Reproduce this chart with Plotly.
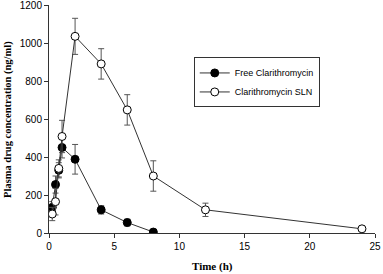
import plotly.graph_objects as go

time_free = [0.25, 0.5, 0.75, 1, 2, 4, 6, 8]
conc_free = [135, 255, 330, 450, 388, 122, 55, 5]
err_free = [30, 45, 40, 55, 78, 22, 18, 3]

time_sln = [0.25, 0.5, 0.75, 1, 2, 4, 6, 8, 12, 24]
conc_sln = [100, 165, 340, 508, 1035, 890, 648, 300, 122, 22]
err_sln = [35, 70, 45, 85, 95, 80, 80, 80, 35, 5]

x_ticks = [0, 5, 10, 15, 20, 25]
y_ticks = [0, 200, 400, 600, 800, 1000, 1200]

fig = go.Figure()
fig.add_trace(go.Scatter(
    x=time_free, y=conc_free, name="Free Clarithromycin", mode="lines+markers",
    line=dict(color="#333333", width=1),
    marker=dict(symbol="circle", size=8, color="black", line=dict(color="black", width=1)),
    error_y=dict(type="data", array=err_free, color="#555555", thickness=1, width=3),
))
fig.add_trace(go.Scatter(
    x=time_sln, y=conc_sln, name="Clarithromycin SLN", mode="lines+markers",
    line=dict(color="#333333", width=1),
    marker=dict(symbol="circle", size=8, color="white", line=dict(color="black", width=1)),
    error_y=dict(type="data", array=err_sln, color="#555555", thickness=1, width=3),
))

title_font = dict(family="Liberation Serif, Times New Roman", size=11, color="black")

fig.update_layout(
    width=383, height=274,
    margin=dict(l=49, r=8, t=5, b=41),
    paper_bgcolor="white", plot_bgcolor="white",
    font=dict(family="Liberation Sans, Arial", size=10, color="black"),
    showlegend=True,
    legend=dict(
        x=0.444, y=0.77, xanchor="left", yanchor="top",
        bordercolor="#333333", borderwidth=1, bgcolor="white",
        font=dict(size=9), itemwidth=30, tracegroupgap=0,
    ),
    xaxis=dict(
        range=[0, 25], tickvals=x_ticks, showgrid=False, zeroline=False,
        showline=True, linecolor="#333333", linewidth=1,
        ticks="outside", ticklen=4, tickcolor="#333333", automargin=False,
        ticklabeloverflow="allow",
    ),
    yaxis=dict(
        range=[0, 1200], tickvals=y_ticks, showgrid=False, zeroline=False,
        showline=True, linecolor="#333333", linewidth=1,
        ticks="outside", ticklen=4, tickcolor="#333333", automargin=False,
        ticklabeloverflow="allow",
    ),
    annotations=[
        dict(text="<b>Time (h)</b>", xref="paper", yref="paper", x=0.5, y=-0.145,
             xanchor="center", yanchor="middle", showarrow=False, font=title_font),
        dict(text="<b>Plasma drug concentration (ng/ml)</b>", xref="paper", yref="paper",
             x=-0.126, y=0.5, xanchor="center", yanchor="middle", textangle=-90,
             showarrow=False, font=dict(family="Liberation Serif, Times New Roman", size=10.5, color="black")),
    ],
)

fig.write_html(
    "out.html",
    config={"displayModeBar": False},
    post_script="document.body.style.margin='0';document.body.style.overflow='hidden';",
)
